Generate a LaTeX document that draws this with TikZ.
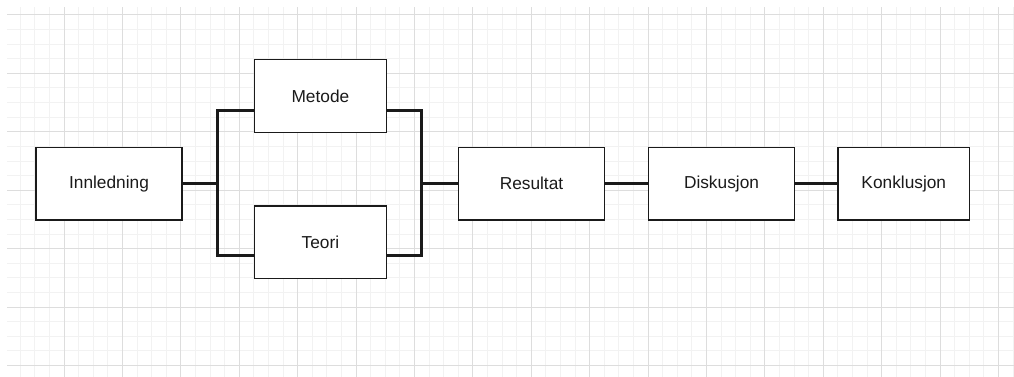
\documentclass[tikz,border=0pt]{standalone}
\usepackage{fontspec}
\setmainfont{Liberation Sans}
\definecolor{minorgrid}{HTML}{F2F2F2}
\definecolor{majorgrid}{HTML}{DDDDDD}
\definecolor{ink}{HTML}{1A1A1A}
\begin{document}
\begin{tikzpicture}[x=1pt,y=-1pt,
  box/.style={draw=ink,line width=1.3pt,fill=white,minimum height=72.7pt,inner sep=0pt,
    font=\fontsize{17.3}{20}\selectfont,text=ink},
  wbox/.style={box,minimum width=146pt},
  nbox/.style={box,minimum width=131.5pt},
  conn/.style={draw=ink,line width=3pt,line join=miter}]
\useasboundingbox (0,0) rectangle (1014,377);
\fill[white] (0,0) rectangle (1014,377);
\begin{scope}
  \clip (7,8) rectangle (1014,377);
  \foreach \i in {0,...,70} {
    \draw[minorgrid,line width=1pt] ({5.6+14.6*\i},0) -- ({5.6+14.6*\i},377);
  }
  \foreach \j in {0,...,26} {
    \draw[minorgrid,line width=1pt] (0,{0.4+14.6*\j}) -- (1014,{0.4+14.6*\j});
  }
  \foreach \i in {0,...,17} {
    \draw[majorgrid,line width=1pt] ({5.6+58.4*\i},0) -- ({5.6+58.4*\i},377);
  }
  \foreach \j in {0,...,6} {
    \draw[majorgrid,line width=1pt] (0,{15+58.4*\j}) -- (1014,{15+58.4*\j});
  }
\end{scope}
\coordinate (bl) at (217.3,183.6);
\coordinate (br) at (421.7,183.6);
\node[wbox] (Innledning) at (109,183.6) {Innledning};
\node[nbox] (Metode) at (320.4,96) {Metode};
\node[nbox] (Teori) at (320.4,242.4) {Teori};
\node[wbox] (Resultat) at (531.5,183.6) {Resultat};
\node[wbox] (Diskusjon) at (721.5,183.6) {Diskusjon};
\node[nbox] (Konklusjon) at (903.8,183.6) {Konklusjon};
\draw[conn] (Innledning.east) -- (bl);
\draw[conn] ([yshift=-14.7pt]Metode.west) -| (bl) |- ([yshift=-13.3pt]Teori.west);
\draw[conn] ([yshift=-14.7pt]Metode.east) -| (br) |- ([yshift=-13.3pt]Teori.east);
\draw[conn] (br) -- (Resultat.west);
\draw[conn] (Resultat.east) -- (Diskusjon.west);
\draw[conn] (Diskusjon.east) -- (Konklusjon.west);
\end{tikzpicture}
\end{document}
